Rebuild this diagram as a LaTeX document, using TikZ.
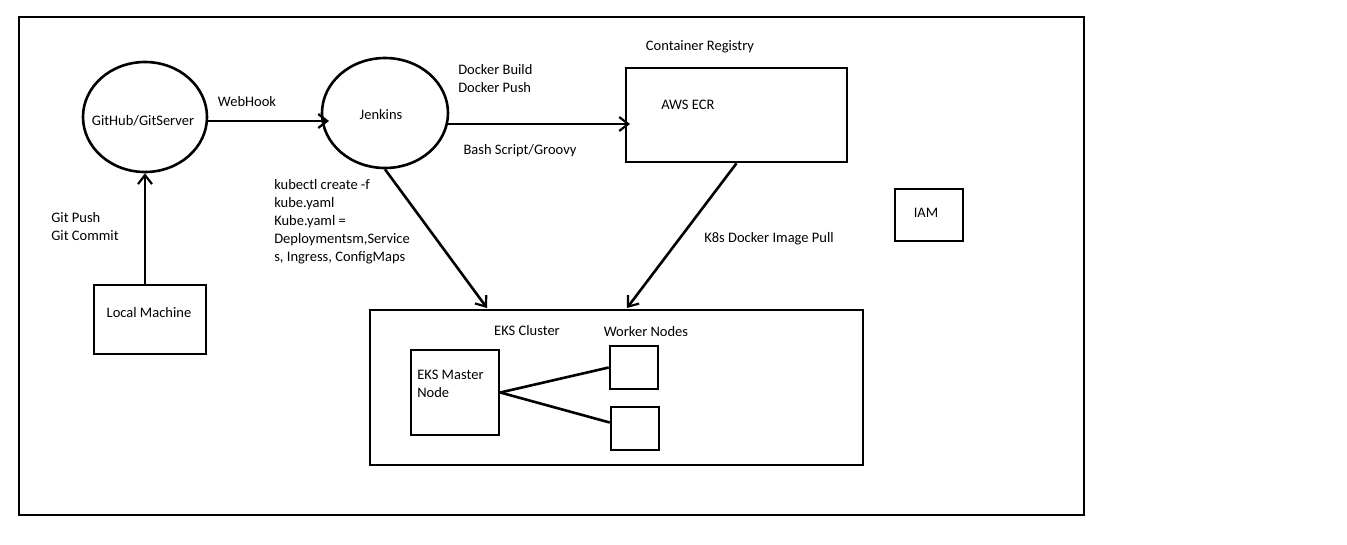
\documentclass[tikz,border=0pt]{standalone}
\usepackage{fontspec}
\setmainfont{Carlito}
\usetikzlibrary{shapes.geometric,arrows.meta}
\begin{document}
\begin{tikzpicture}[x=1pt,y=-1pt,
  line width=2.6pt,
  box/.style={draw,rectangle,inner sep=0pt},
  oval/.style={draw,ellipse,inner sep=0pt},
  lbl/.style={font=\fontsize{14.5}{18}\selectfont,inner sep=0pt,align=left},
  conn/.style={-{Straight Barb[length=9pt,width=14pt,line width=2.2pt]}}
]
\useasboundingbox (0,0) rectangle (1347,544);
\fill[white] (0,0) rectangle (1347,544);
% outer frame
\node[box,minimum width=1065pt,minimum height=498pt] (frame) at (551.5,266) {};
% main nodes
\node[oval,minimum width=124pt,minimum height=110pt] (git) at (145,117) {};
\node[lbl] (gitt) at (143,121) {GitHub/GitServer};
\node[oval,minimum width=126pt,minimum height=110pt] (jenkins) at (385,113) {};
\node[lbl] (jenkinst) at (381,115) {Jenkins};
\node[box,minimum width=221pt,minimum height=94pt] (ecr) at (736.5,115) {};
\node[lbl,anchor=west] (ecrt) at (660,105) {AWS ECR};
\node[lbl] (reg) at (700,46.5) {Container Registry};
\node[box,minimum width=68pt,minimum height=52pt] (iam) at (929,215) {};
\node[lbl] (iamt) at (926,212.5) {IAM};
\node[box,minimum width=112pt,minimum height=69pt] (local) at (150,319.5) {};
\node[lbl] (localt) at (149,312.5) {Local Machine};
\node[box,minimum width=493pt,minimum height=155pt] (eks) at (616.5,387.5) {};
\node[lbl] (ekst) at (527,330.5) {EKS Cluster};
\node[lbl] (workt) at (646,331.5) {Worker Nodes};
\node[box,minimum width=88pt,minimum height=85pt] (master) at (455,392.5) {};
\node[lbl,anchor=north west] (mastert) at (416,369) {EKS Master\\Node};
\node[box,minimum width=48pt,minimum height=43pt] (w1) at (634,367.5) {};
\node[box,minimum width=48pt,minimum height=43pt] (w2) at (635,428.5) {};
% labels
\node[lbl] (webhook) at (247,102) {WebHook};
\node[lbl,anchor=north west] (docker) at (457,63) {Docker Build\\Docker Push};
\node[lbl] (bash) at (520,150.5) {Bash Script/Groovy};
\node[lbl,anchor=north west] (gitpush) at (50,211) {Git Push\\Git Commit};
\node[lbl,anchor=north west] (kube) at (273,178) {kubectl create -f\\kube.yaml\\Kube.yaml =\\Deploymentsm,Service\\s, Ingress, ConfigMaps};
\node[lbl] (pull) at (769,238.5) {K8s Docker Image Pull};
% connector end points
\coordinate (eksin1) at (487,308);
\coordinate (eksin2) at (627,308);
\coordinate (jin) at (329,121);
\coordinate (ecrin) at (630,124);
\coordinate (gitout) at (207,121);
\coordinate (jout) at (448,124);
% connectors
\draw[conn] (local.north -| git.south) -- (git.south);
\draw[conn] (gitout) -- (jin);
\draw[conn] (jout) -- (ecrin);
\draw[conn] (jenkins.south) -- (eksin1);
\draw[conn] (ecr.south) -- (eksin2);
\draw (master.east) -- (w1.west);
\draw (master.east) -- ([yshift=6pt]w2.west);
\end{tikzpicture}
\end{document}
